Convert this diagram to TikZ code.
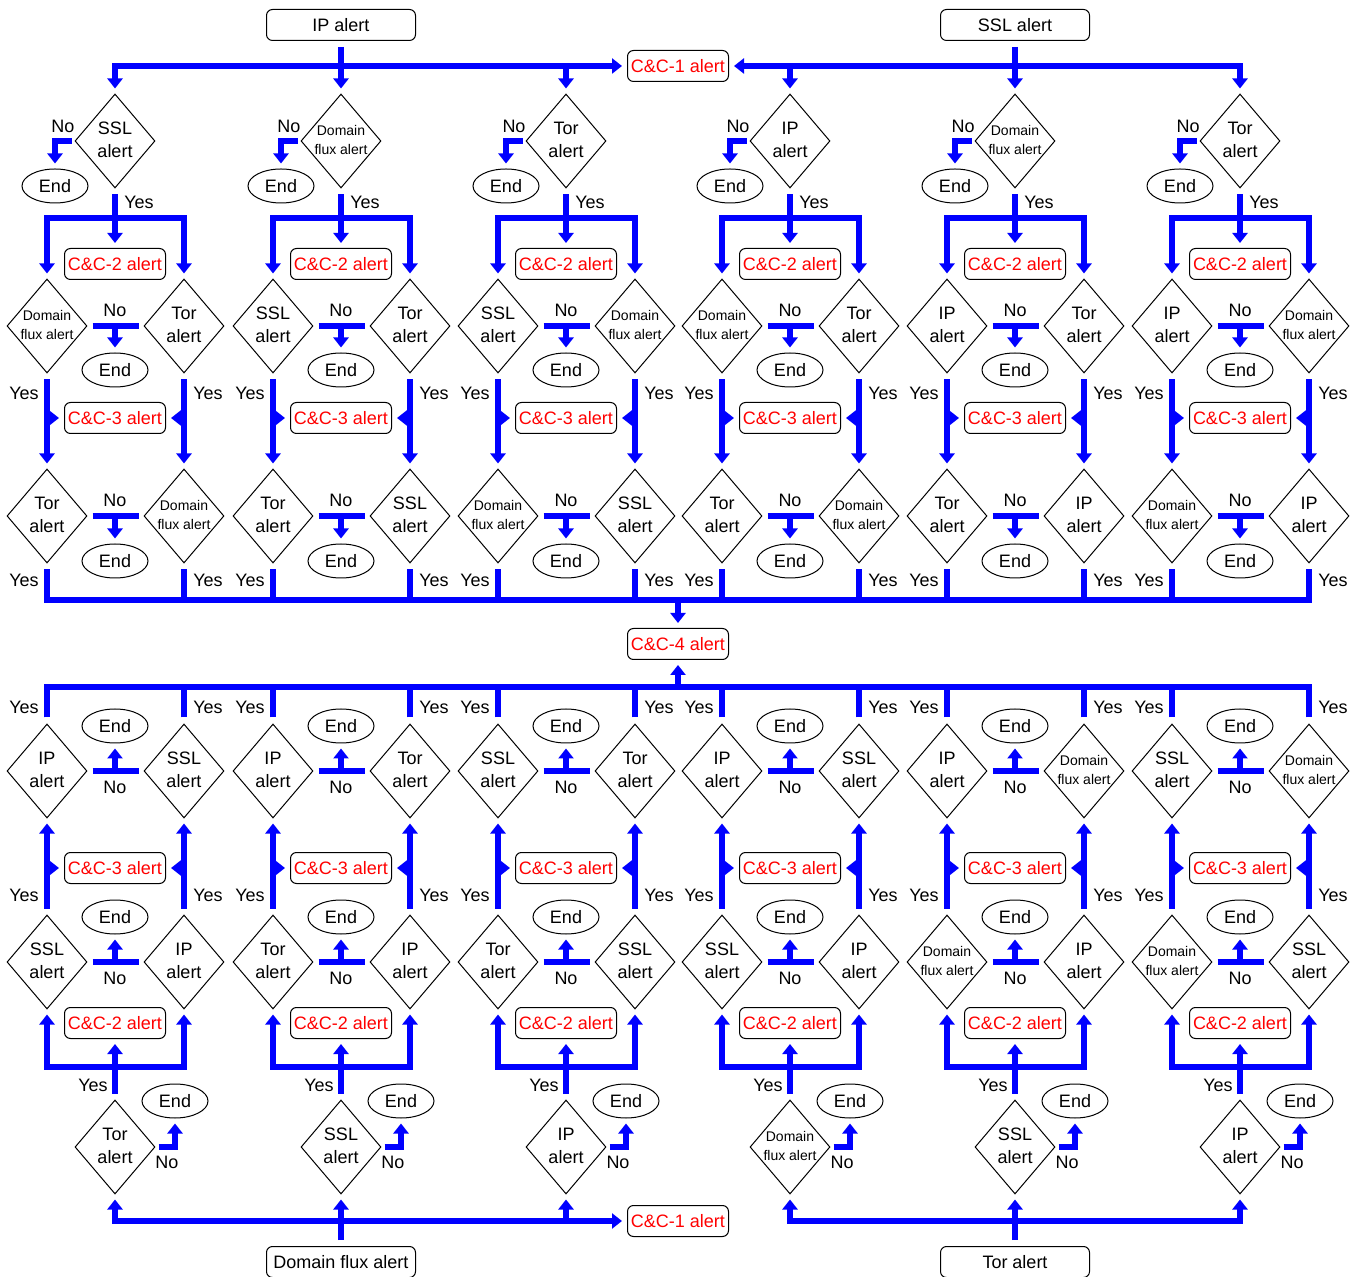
\documentclass[tikz,border=0pt]{standalone}
\usepackage{fontspec}
\setmainfont{Liberation Sans}
\usepackage{tikz}
\usetikzlibrary{shapes.geometric}
\usetikzlibrary{arrows.meta}

\newcommand{\twoline}[2]{\begin{tabular}{@{}c@{}}#1\\#2\end{tabular}}
\newcommand{\alS}{\twoline{SSL}{alert}}
\newcommand{\alT}{\twoline{Tor}{alert}}
\newcommand{\alI}{\twoline{IP}{alert}}
\newcommand{\alD}{\fontsize{7}{9.3}\selectfont\twoline{Domain}{flux alert}}

\begin{document}
\begin{tikzpicture}[x=0.5pt,y=-0.5pt,font=\fontsize{9}{11.5}\selectfont,
		flow/.style={blue,line width=3.2pt},
		arr/.style={flow,-{Triangle[width=7.5pt,length=5pt]},shorten >=2.5pt},
		dia/.style={diamond,draw,line width=0.5pt,inner sep=-3pt,minimum width=40pt,minimum height=47pt},
		fin/.style={ellipse,draw,line width=0.5pt,inner sep=0pt,minimum width=33pt,minimum height=17pt},
		cc/.style={draw,line width=0.5pt,rounded corners=3pt,text=red,inner sep=0pt,minimum width=50.5pt,minimum height=15.5pt},
		src/.style={draw,line width=0.5pt,rounded corners=3pt,inner sep=0pt,minimum width=74.5pt,minimum height=15.5pt}]
	
	\useasboundingbox (0,0) rectangle (1360,1277);
	
	\node[src] (IPA) at (341,25) {IP alert};
	\node[src] (SSLA) at (1015,25) {SSL alert};
	\node[cc] (C1t) at (678,66) {C\&C-1 alert};
	\node[cc] (C4) at (678,644) {C\&C-4 alert};
	\node[cc] (C1b) at (678,1221) {C\&C-1 alert};
	\node[src] (DFA) at (341,1262) {Domain flux alert};
	\node[src] (TORA) at (1015,1262) {Tor alert};
	
	\coordinate (ti) at (341,66);
	\coordinate (ts) at (1015,66);
	\coordinate (BusT) at (678,600);
	\coordinate (BusB) at (678,687);
	\coordinate (bd) at (341,1221);
	\coordinate (bt) at (1015,1221);
	
	\foreach \i/\X/\ta/\tbl/\tbr/\tcl/\tcr in {1/115/S/D/T/T/D,2/341/D/S/T/T/S,3/566/T/S/D/D/S,4/790/I/D/T/T/D,5/1015/D/I/T/T/I,6/1240/T/I/D/D/I}{
		\node[dia] (A\i) at (\X,141) {\csname al\ta\endcsname};
		\node[fin] (EA\i) at (\X-60,186) {End};
		\node (nA\i) at (\X-52,126) {No};
		\node (yA\i) at (\X+24,202) {Yes};
		\coordinate (YA\i) at (\X,218);
		
		\node[cc] (CB\i) at (\X,264) {C\&C-2 alert};
		\node[dia] (BL\i) at (\X-68,326) {\csname al\tbl\endcsname};
		\node[dia] (BR\i) at (\X+69,326) {\csname al\tbr\endcsname};
		\coordinate (NB\i) at (\X,326);
		\node (nB\i) at (\X,310) {No};
		\node[fin] (EB\i) at (\X,370) {End};
		\node (yBL\i) at (\X-91,393) {Yes};
		\node (yBR\i) at (\X+93,393) {Yes};
		
		\node[cc] (CC\i) at (\X,418) {C\&C-3 alert};
		\node[dia] (CL\i) at (\X-68,516) {\csname al\tcl\endcsname};
		\node[dia] (CR\i) at (\X+69,516) {\csname al\tcr\endcsname};
		\coordinate (NC\i) at (\X,516);
		\node (nC\i) at (\X,500) {No};
		\node[fin] (EC\i) at (\X,561) {End};
		\node (yCL\i) at (\X-91,580) {Yes};
		\node (yCR\i) at (\X+93,580) {Yes};
		
		\draw[arr] ([xshift=-1.5pt]A\i.west) -| (EA\i.north);
		\draw[flow] ([yshift=-3pt]A\i.south) -- (YA\i);
		\draw[arr] (YA\i) -| (BL\i.north);
		\draw[arr] (YA\i) -| (BR\i.north);
		\draw[arr] (YA\i) -- (CB\i.north);
		\draw[flow] ([xshift=2.5pt]BL\i.east) -- ([xshift=-2.5pt]BR\i.west);
		\draw[arr] (NB\i) -- (EB\i.north);
		\draw[arr] ([yshift=-3pt]BL\i.south) -- (CL\i.north);
		\draw[arr] ([yshift=-3pt]BR\i.south) -- (CR\i.north);
		\draw[arr] (CC\i.west -| BL\i.south) -- (CC\i.west);
		\draw[arr] (CC\i.east -| BR\i.south) -- (CC\i.east);
		\draw[flow] ([xshift=2.5pt]CL\i.east) -- ([xshift=-2.5pt]CR\i.west);
		\draw[arr] (NC\i) -- (EC\i.north);
		\draw[flow] ([yshift=-3pt]CL\i.south) -- (CL\i.south |- BusT);
		\draw[flow] ([yshift=-3pt]CR\i.south) -- (CR\i.south |- BusT);
	}
	
	\foreach \i/\X/\tpl/\tpr/\tql/\tqr/\tr in {1/115/I/S/S/I/T,2/341/I/T/T/I/S,3/566/S/T/T/S/I,4/790/I/S/S/I/D,5/1015/I/D/D/I/S,6/1240/S/D/D/S/I}{
		\node[dia] (PL\i) at (\X-68,771) {\csname al\tpl\endcsname};
		\node[dia] (PR\i) at (\X+69,771) {\csname al\tpr\endcsname};
		\coordinate (NP\i) at (\X,771);
		\node[fin] (EP\i) at (\X,726) {End};
		\node (nP\i) at (\X,787) {No};
		\node (yPL\i) at (\X-91,707) {Yes};
		\node (yPR\i) at (\X+93,707) {Yes};
		
		\node[cc] (CP\i) at (\X,868) {C\&C-3 alert};
		\node[dia] (QL\i) at (\X-68,962) {\csname al\tql\endcsname};
		\node[dia] (QR\i) at (\X+69,962) {\csname al\tqr\endcsname};
		\coordinate (NQ\i) at (\X,962);
		\node[fin] (EQ\i) at (\X,917) {End};
		\node (nQ\i) at (\X,978) {No};
		\node (yQL\i) at (\X-91,895) {Yes};
		\node (yQR\i) at (\X+93,895) {Yes};
		
		\node[cc] (CQ\i) at (\X,1023) {C\&C-2 alert};
		\coordinate (YR\i) at (\X,1067);
		\node (yR\i) at (\X-22,1085) {Yes};
		\node[dia] (R\i) at (\X,1147) {\csname al\tr\endcsname};
		\node[fin] (ER\i) at (\X+60,1101) {End};
		\node (nR\i) at (\X+52,1162) {No};
		
		\draw[flow] ([yshift=3pt]PL\i.north) -- (PL\i.north |- BusB);
		\draw[flow] ([yshift=3pt]PR\i.north) -- (PR\i.north |- BusB);
		\draw[flow] ([xshift=2.5pt]PL\i.east) -- ([xshift=-2.5pt]PR\i.west);
		\draw[arr] (NP\i) -- (EP\i.south);
		\draw[arr] ([yshift=3pt]QL\i.north) -- (PL\i.south);
		\draw[arr] ([yshift=3pt]QR\i.north) -- (PR\i.south);
		\draw[arr] (CP\i.west -| QL\i.north) -- (CP\i.west);
		\draw[arr] (CP\i.east -| QR\i.north) -- (CP\i.east);
		\draw[flow] ([xshift=2.5pt]QL\i.east) -- ([xshift=-2.5pt]QR\i.west);
		\draw[arr] (NQ\i) -- (EQ\i.south);
		\draw[arr] (YR\i) -| (QL\i.south);
		\draw[arr] (YR\i) -| (QR\i.south);
		\draw[arr] (YR\i) -- (CQ\i.south);
		\draw[flow] ([yshift=3pt]R\i.north) -- (YR\i);
		\draw[arr] ([xshift=1.5pt]R\i.east) -| (ER\i.south);
	}
	
	\draw[flow] ([yshift=-3pt]IPA.south) -- (ti);
	\draw[arr] (ti) -| (A1.north);
	\draw[arr] (ti) -- (A2.north);
	\draw[arr] (ti) -| (A3.north);
	\draw[arr] (ti) -- (C1t.west);
	
	\draw[flow] ([yshift=-3pt]SSLA.south) -- (ts);
	\draw[arr] (ts) -| (A4.north);
	\draw[arr] (ts) -- (A5.north);
	\draw[arr] (ts) -| (A6.north);
	\draw[arr] (ts) -- (C1t.east);
	
	\draw[flow] ([yshift=-3pt]CL1.south) |- (BusT) -| ([yshift=-3pt]CR6.south);
	\draw[arr] (BusT) -- (C4.north);
	\draw[flow] ([yshift=3pt]PL1.north) |- (BusB) -| ([yshift=3pt]PR6.north);
	\draw[arr] (BusB) -- (C4.south);
	
	\draw[flow] ([yshift=3pt]DFA.north) -- (bd);
	\draw[arr] (bd) -| (R1.south);
	\draw[arr] (bd) -- (R2.south);
	\draw[arr] (bd) -| (R3.south);
	\draw[arr] (bd) -- (C1b.west);
	
	\draw[flow] ([yshift=3pt]TORA.north) -- (bt);
	\draw[arr] (bt) -| (R4.south);
	\draw[arr] (bt) -- (R5.south);
	\draw[arr] (bt) -| (R6.south);
	
\end{tikzpicture}
\end{document}
